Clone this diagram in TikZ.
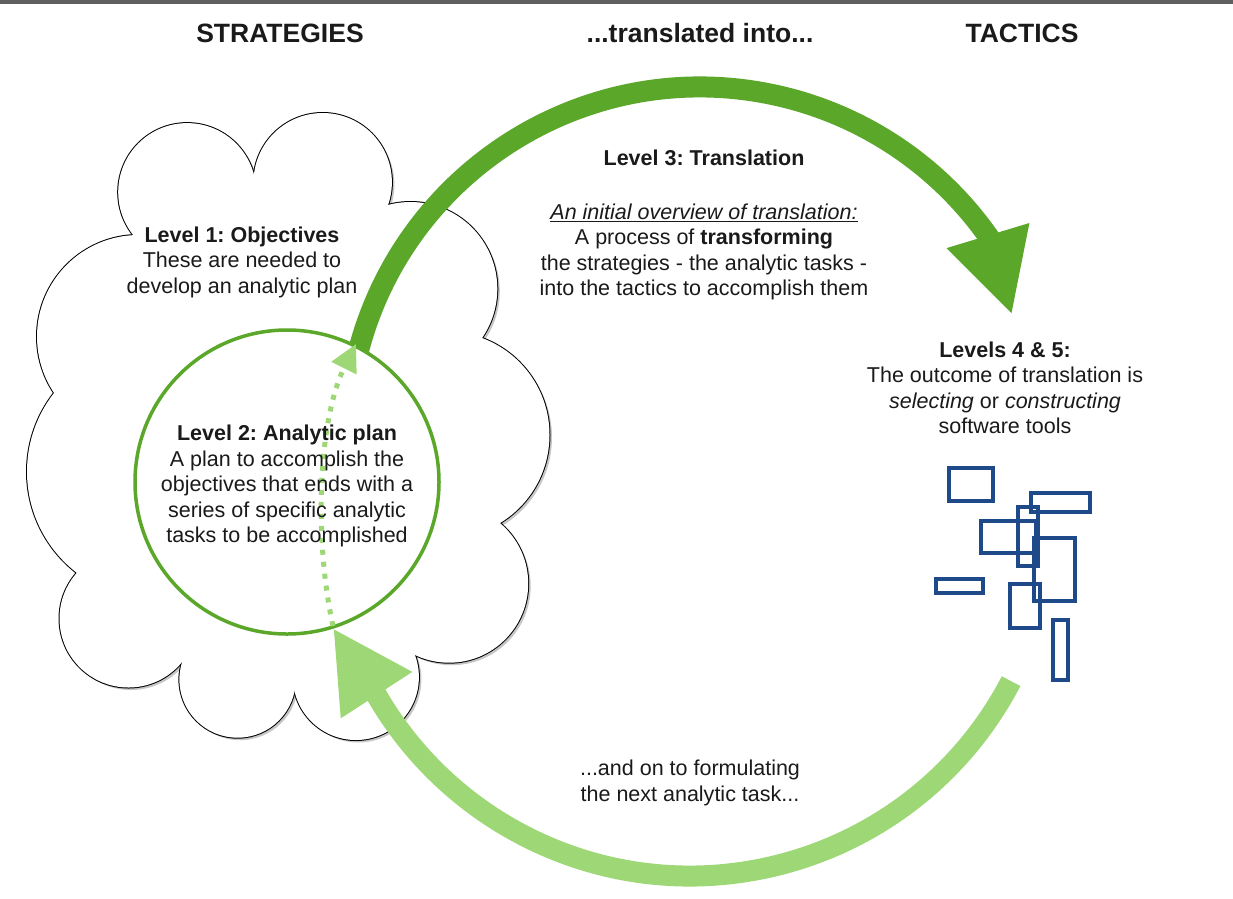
\documentclass[tikz,border=0pt]{standalone}
\usepackage{fontspec}
\setmainfont{Liberation Sans}
\usetikzlibrary{arrows.meta}

\definecolor{dkgreen}{RGB}{90,167,42}
\definecolor{ltgreen}{RGB}{158,216,118}
\definecolor{toolblue}{RGB}{31,74,138}
\definecolor{txt}{RGB}{26,26,26}
\definecolor{topbar}{RGB}{96,96,96}

\newcommand{\bodyfont}{\fontsize{21.5}{25.5}\selectfont}
\newcommand{\headfont}{\fontsize{26.5}{30}\selectfont\bfseries}
\frenchspacing

% Wolke: Mittelpunkt/Radius der Bogen
\def\cloudpuffs{{187.2,192.1}/69, {322.7,182.2}/69.2, {410.5,288.8}/86.8,
  {446.2,434.9}/103.3, {449.1,583.6}/79.1, {355.9,677}/63, {237.6,679.5}/58.2,
  {128.5,618.5}/69, {154.8,471.6}/127.8, {138.6,336.6}/101.6}
\def\cloudcore{(134,235) -- (254,175) -- (388,205) -- (482,338) -- (500,523)
  -- (415,655) -- (294,665) -- (182,662) -- (77,573) -- (54,393) -- cycle}

\begin{document}
\begin{tikzpicture}[x=1pt,y=-1pt,
  head/.style={font=\headfont, text=txt, inner sep=0pt},
  body/.style={font=\bodyfont, text=txt, align=center, inner sep=0pt},
  bigarrow/.style={line width=21pt},
  tool/.style={draw=toolblue, line width=4pt}]

  \useasboundingbox (0,0) rectangle (1233,898);
  \fill[white] (0,0) rectangle (1233,898);
  \fill[topbar] (0,0) rectangle (1233,3.5);

  % Wolke
  \begin{scope}[shift={(2.5,2.5)}]
    \fill[black!22] \cloudcore;
    \foreach \c/\r in \cloudpuffs \fill[black!22] (\c) circle[radius=\r];
  \end{scope}
  \foreach \c/\r in \cloudpuffs \draw[line width=2pt] (\c) circle[radius=\r];
  \fill[white] \cloudcore;
  \foreach \c/\r in \cloudpuffs \fill[white] (\c) circle[radius=\r];

  \coordinate (topctr) at (700,440);
  \coordinate (bottomctr) at (690,514);
  \coordinate (tactictip) at (1012,315);
  \coordinate (plantip) at (333,628);
  \coordinate (dotstart) at (333,626);
  \coordinate (dottip) at (356,344);

  % Translation
  \draw[bigarrow, dkgreen, -{Triangle[length=83pt,width=80pt]}]
    (topctr) ++(-168:353) arc[start angle=-168, end angle=-35.3, radius=353] -- (tactictip);

  \node[circle, draw=dkgreen, line width=3.5pt, fill=white,
    minimum size=304pt, inner sep=0pt] (plan) at (287,482) {};

  \draw[ltgreen, line width=5pt, dash pattern=on 5pt off 7pt,
    -{Triangle[length=27pt,width=27pt]}]
    (dotstart) .. controls (314,540) and (318,420) .. (dottip);

  % zurueck
  \draw[bigarrow, ltgreen, -{Triangle[length=80pt,width=79pt]}]
    (bottomctr) ++(27.5:362) arc[start angle=27.5, end angle=150, radius=362] -- (plantip);

  % Werkzeuge
  \foreach \a/\b in {{949,468}/{993,501}, {1031,493}/{1090,512},
      {981,521}/{1036,553}, {1018,507}/{1038,566}, {1034,538}/{1075,601},
      {936,579}/{983,593}, {1010,584}/{1040,628}, {1053,620}/{1068,680}}
    \draw[tool] (\a) rectangle (\b);

  \node[head] (strat) at (280,33) {STRATEGIES};
  \node[head] (transl) at (700,33) {...translated into...};
  \node[head] (tact) at (1022,33) {TACTICS};

  \node[body] (objectives) at (242,262)
    {\textbf{Level 1: Objectives}\\These are needed to\\develop an analytic plan};
  \node[body] (plantext) at (287,486)
    {\textbf{Level 2: Analytic plan}\\A plan to accomplish the\\objectives that ends with a\\series of specific analytic\\tasks to be accomplished};
  \node[body] (translation) at (704,158) {\textbf{Level 3: Translation}};
  \node[body] (overview) at (704,252)
    {\textit{\underline{An initial overview of translation:}}\\A process of \textbf{transforming}\\the strategies - the analytic tasks -\\into the tactics to accomplish them};
  \node[body] (outcome) at (1005,388)
    {\textbf{Levels 4 \& 5:}\\The outcome of translation is\\\textit{selecting} or \textit{constructing}\\software tools};
  \node[body] (nexttask) at (690,783)
    {...and on to formulating\\the next analytic task...};

\end{tikzpicture}
\end{document}
